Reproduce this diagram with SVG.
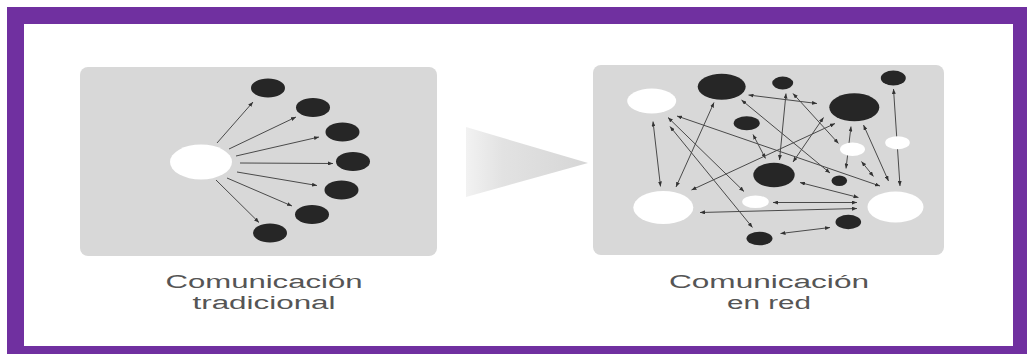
<svg xmlns="http://www.w3.org/2000/svg" width="1027" height="354" viewBox="0 0 1027 354">
<style>
.panel{fill:#d8d8d8}
.blk{fill:#262626}
.wht{fill:#ffffff}
.ln{stroke:#4a4a4a;stroke-width:1;fill:none}
.one{marker-end:url(#ah)}
.two{marker-start:url(#ah);marker-end:url(#ah)}
.lbl{font-family:"Liberation Sans",Arial,sans-serif;font-size:18px;fill:#555555;text-anchor:middle}
</style>
<defs>
<marker id="ah" viewBox="0 0 10 8" refX="10" refY="4" markerWidth="5" markerHeight="4" markerUnits="userSpaceOnUse" orient="auto-start-reverse">
<path d="M0,0 L10,4 L0,8 Z" fill="#333"/>
</marker>
<linearGradient id="tri" x1="0" y1="0" x2="1" y2="0">
<stop offset="0" stop-color="#f2f2f2"/>
<stop offset="0.3" stop-color="#e2e2e2"/>
<stop offset="1" stop-color="#d6d6d6"/>
</linearGradient>
<filter id="soft" x="-20%" y="-20%" width="140%" height="140%"><feGaussianBlur stdDeviation="0.7"/></filter>
</defs>

<rect x="7" y="7" width="1020" height="347" fill="#7030a0"/>
<rect x="24" y="24" width="989" height="322" fill="#ffffff"/>

<g id="panel-left"><rect class="panel" x="80" y="67" width="357" height="189" rx="8"/></g>
<g id="panel-right"><rect class="panel" x="593" y="65" width="351" height="190" rx="8"/></g>
<g id="arrow-mid"><polygon points="466,127 588,163 466,197" fill="url(#tri)"/></g>

<g id="connectors">
<line class="ln one" x1="217" y1="143" x2="253" y2="102"/>
<line class="ln one" x1="229" y1="149" x2="296" y2="117"/>
<line class="ln one" x1="236" y1="156" x2="319" y2="137"/>
<line class="ln one" x1="240" y1="163" x2="333" y2="163.5"/>
<line class="ln one" x1="237" y1="172" x2="317" y2="185.5"/>
<line class="ln one" x1="227" y1="178" x2="292" y2="206"/>
<line class="ln one" x1="216" y1="180" x2="259" y2="222.5"/>

<line class="ln two" x1="653" y1="121.5" x2="660.5" y2="186.5"/>
<line class="ln two" x1="714" y1="102.5" x2="676" y2="187"/>
<line class="ln two" x1="748.5" y1="95" x2="817" y2="103.5"/>
<line class="ln two" x1="741.5" y1="100" x2="830" y2="173"/>
<line class="ln two" x1="786" y1="93.5" x2="779.5" y2="160"/>
<line class="ln two" x1="793" y1="93.5" x2="838.5" y2="143.5"/>
<line class="ln two" x1="893.5" y1="89" x2="900" y2="186"/>
<line class="ln two" x1="753" y1="134.5" x2="765.5" y2="158.5"/>
<line class="ln two" x1="823.5" y1="117.5" x2="793" y2="162"/>
<line class="ln two" x1="835" y1="123.5" x2="691.5" y2="190"/>
<line class="ln two" x1="851" y1="126.5" x2="846" y2="168.5"/>
<line class="ln two" x1="863.5" y1="125" x2="888.5" y2="181"/>
<line class="ln two" x1="861.5" y1="161.5" x2="873.5" y2="176.5"/>
<line class="ln two" x1="677" y1="116" x2="880" y2="186"/>
<line class="ln two" x1="668" y1="117.5" x2="744" y2="191.5"/>
<line class="ln two" x1="670" y1="126.5" x2="752.5" y2="227.5"/>
<line class="ln two" x1="800" y1="182.5" x2="858.5" y2="197.5"/>
<line class="ln two" x1="773" y1="202.5" x2="857" y2="202.5"/>
<line class="ln two" x1="700" y1="212.5" x2="857" y2="208.5"/>
<line class="ln two" x1="780.5" y1="233.5" x2="830" y2="227.5"/>
</g>

<g id="l-center"><ellipse class="wht" filter="url(#soft)" cx="201" cy="162" rx="31" ry="17.5"/></g>
<g id="l-n1"><ellipse class="blk" cx="268" cy="88" rx="17" ry="9.5"/></g>
<g id="l-n2"><ellipse class="blk" cx="313" cy="107.5" rx="17" ry="9.5"/></g>
<g id="l-n3"><ellipse class="blk" cx="342.5" cy="132" rx="17" ry="9.5"/></g>
<g id="l-n4"><ellipse class="blk" cx="353" cy="161.5" rx="17" ry="9.5"/></g>
<g id="l-n5"><ellipse class="blk" cx="341.5" cy="190" rx="17" ry="9.5"/></g>
<g id="l-n6"><ellipse class="blk" cx="312" cy="214.5" rx="17" ry="9.5"/></g>
<g id="l-n7"><ellipse class="blk" cx="270" cy="233" rx="17" ry="9.5"/></g>

<g id="r-a"><ellipse class="blk" cx="721.7" cy="86.7" rx="24" ry="13"/></g>
<g id="r-b"><ellipse class="blk" cx="782.7" cy="83" rx="10.5" ry="6.5"/></g>
<g id="r-c"><ellipse class="blk" cx="893.3" cy="78" rx="12.5" ry="7.5"/></g>
<g id="r-d"><ellipse class="wht" filter="url(#soft)" cx="651.7" cy="101" rx="24.5" ry="12.5"/></g>
<g id="r-e"><ellipse class="blk" cx="854.3" cy="107.3" rx="25" ry="14"/></g>
<g id="r-f"><ellipse class="blk" cx="746.7" cy="123.3" rx="13" ry="7"/></g>
<g id="r-g"><ellipse class="wht" filter="url(#soft)" cx="852.5" cy="149.3" rx="12.5" ry="6.8"/></g>
<g id="r-h"><ellipse class="wht" filter="url(#soft)" cx="897.5" cy="142.7" rx="12.3" ry="6.5"/></g>
<g id="r-i"><ellipse class="blk" cx="774" cy="175" rx="20.7" ry="12.3"/></g>
<g id="r-j"><ellipse class="blk" cx="839.3" cy="180.7" rx="7.8" ry="5.2"/></g>
<g id="r-k"><ellipse class="wht" filter="url(#soft)" cx="663.3" cy="207.5" rx="30" ry="16.5"/></g>
<g id="r-l"><ellipse class="wht" filter="url(#soft)" cx="755.5" cy="201.7" rx="13.3" ry="6.3"/></g>
<g id="r-m"><ellipse class="wht" filter="url(#soft)" cx="895.5" cy="207" rx="28" ry="15.5"/></g>
<g id="r-n"><ellipse class="blk" cx="848.3" cy="222" rx="12.8" ry="7.2"/></g>
<g id="r-o"><ellipse class="blk" cx="759.5" cy="238.5" rx="13" ry="6.8"/></g>

<g id="label-left">
<text class="lbl" x="264" y="288" textLength="197" lengthAdjust="spacingAndGlyphs">Comunicación</text>
<text class="lbl" x="264" y="309" textLength="143" lengthAdjust="spacingAndGlyphs">tradicional</text>
</g>
<g id="label-right">
<text class="lbl" x="769" y="288" textLength="200" lengthAdjust="spacingAndGlyphs">Comunicación</text>
<text class="lbl" x="769" y="309" textLength="84" lengthAdjust="spacingAndGlyphs">en red</text>
</g>
</svg>
